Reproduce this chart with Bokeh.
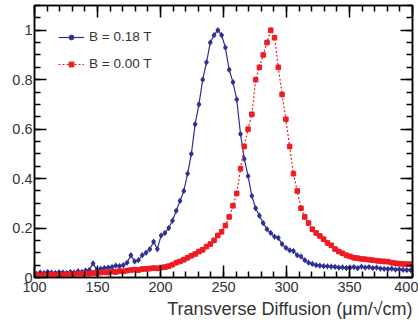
import numpy as np
from bokeh.plotting import figure
from bokeh.models import (Range1d, LinearAxis, Legend, LegendItem, Title,
                          FixedTicker, ColumnDataSource, Whisker, CustomJSTickFormatter)
from bokeh.embed import file_html
from bokeh.resources import INLINE

x_centers = list(np.arange(101.5, 400, 3.0))

b018 = [0.015, 0.02, 0.018, 0.022, 0.02, 0.018, 0.021, 0.02, 0.018, 0.022,
        0.02, 0.025, 0.022, 0.028, 0.03, 0.057, 0.03, 0.035, 0.038, 0.04,
        0.042, 0.048, 0.046, 0.05, 0.06, 0.09, 0.065, 0.07, 0.09, 0.1,
        0.114, 0.145, 0.115, 0.17, 0.18, 0.2, 0.23, 0.27, 0.31, 0.35,
        0.42, 0.5, 0.62, 0.7, 0.8, 0.87, 0.95, 0.98, 1.0, 0.98,
        0.93, 0.84, 0.79, 0.72, 0.58, 0.48, 0.41, 0.33, 0.28, 0.25,
        0.22, 0.195, 0.18, 0.165, 0.16, 0.135, 0.12, 0.11, 0.107, 0.09,
        0.085, 0.07, 0.06, 0.055, 0.05, 0.048, 0.046, 0.045, 0.044, 0.043,
        0.04, 0.041, 0.038, 0.04, 0.042, 0.038, 0.044, 0.04, 0.042, 0.038,
        0.04, 0.036, 0.035, 0.034, 0.036, 0.032, 0.033, 0.031, 0.03, 0.03]

b000 = [0.01, 0.008, 0.01, 0.009, 0.011, 0.01, 0.012, 0.01, 0.012, 0.014,
        0.013, 0.015, 0.014, 0.016, 0.015, 0.018, 0.017, 0.02, 0.022, 0.02,
        0.024, 0.022, 0.026, 0.025, 0.028, 0.03, 0.032, 0.03, 0.034, 0.035,
        0.036, 0.038, 0.037, 0.04, 0.042, 0.046, 0.052, 0.06, 0.065, 0.072,
        0.08, 0.088, 0.095, 0.105, 0.112, 0.125, 0.135, 0.15, 0.17, 0.185,
        0.21, 0.245, 0.29, 0.34, 0.44, 0.53, 0.6, 0.66, 0.8, 0.85,
        0.9, 0.95, 1.0, 0.97, 0.85, 0.74, 0.64, 0.53, 0.42, 0.35,
        0.28, 0.245, 0.22, 0.195, 0.18, 0.168, 0.155, 0.14, 0.13, 0.115,
        0.105, 0.098, 0.09, 0.085, 0.08, 0.078, 0.075, 0.074, 0.072, 0.07,
        0.068, 0.066, 0.065, 0.064, 0.06, 0.058, 0.056, 0.055, 0.054, 0.054]

y_ticks = [0, 0.2, 0.4, 0.6, 0.8, 1]
y_tick_labels = {0: "0", 0.2: "0.2", 0.4: "0.4", 0.6: "0.6", 0.8: "0.8", 1: "1"}
x_ticks = [100, 150, 200, 250, 300, 350, 400]
x_minor = list(range(100, 401, 10))
y_minor = [i * 0.05 for i in range(23)]

BLUE = "#2e3192"
RED = "#ed1c24"
FONT = "Liberation Sans"
TXT = "#333333"

p = figure(width=418, height=325, output_backend="svg", toolbar_location=None,
           x_range=Range1d(100, 400), y_range=Range1d(0, 1.1),
           min_border_left=34, min_border_right=6, min_border_top=5,
           min_border_bottom=48)
p.xgrid.visible = False
p.ygrid.visible = False
p.outline_line_color = "black"
p.outline_line_width = 1.5
p.background_fill_color = "white"
p.border_fill_color = "white"


def style_axis(ax):
    ax.major_tick_in = 12
    ax.major_tick_out = 0
    ax.minor_tick_in = 6
    ax.minor_tick_out = 0
    ax.axis_line_width = 1.5
    ax.major_tick_line_width = 1.5
    ax.minor_tick_line_width = 1.5
    ax.major_label_text_font = FONT
    ax.major_label_text_font_size = "14.5px"
    ax.major_label_text_color = TXT


for ax in p.xaxis + p.yaxis:
    style_axis(ax)

p.xaxis.ticker = FixedTicker(ticks=x_ticks, minor_ticks=x_minor)
p.yaxis.ticker = FixedTicker(ticks=y_ticks, minor_ticks=y_minor)
p.yaxis.major_label_overrides = y_tick_labels
p.xaxis.major_label_standoff = 4
p.yaxis.major_label_standoff = 2

# mirrored axes (ticks only)
blank = CustomJSTickFormatter(code="return ''")
top = LinearAxis(ticker=FixedTicker(ticks=x_ticks, minor_ticks=x_minor), formatter=blank)
right = LinearAxis(ticker=FixedTicker(ticks=y_ticks, minor_ticks=y_minor), formatter=blank)
for ax in (top, right):
    style_axis(ax)
    ax.major_label_standoff = 0
p.add_layout(top, "above")
p.add_layout(right, "right")

src_b = ColumnDataSource(dict(x=x_centers, y=b018,
                              lo=[v - 0.012 for v in b018], hi=[v + 0.012 for v in b018]))
src_r = ColumnDataSource(dict(x=x_centers, y=b000,
                              lo=[v - 0.012 for v in b000], hi=[v + 0.012 for v in b000]))

lb = p.line("x", "y", source=src_b, line_color=BLUE, line_width=1.2)
sb = p.scatter("x", "y", source=src_b, marker="circle", size=3.5,
               line_color=BLUE, fill_color=BLUE)
p.add_layout(Whisker(source=src_b, base="x", lower="lo", upper="hi",
                     line_color=BLUE, line_width=1, upper_head=None, lower_head=None))

lr = p.line("x", "y", source=src_r, line_color=RED, line_width=1.2, line_dash="2 2")
sr = p.scatter("x", "y", source=src_r, marker="square", size=4.5,
               fill_color=RED, line_color=RED)
p.add_layout(Whisker(source=src_r, base="x", lower="lo", upper="hi",
                     line_color=RED, line_width=1, upper_head=None, lower_head=None))

legend = Legend(items=[LegendItem(label="B = 0.18 T", renderers=[lb, sb]),
                       LegendItem(label="B = 0.00 T", renderers=[lr, sr])],
                location="top_left", margin=24, padding=0, spacing=12,
                glyph_width=26, glyph_height=12, label_standoff=5,
                label_height=15,
                border_line_color=None, background_fill_alpha=0,
                label_text_font=FONT, label_text_font_size="13.5px",
                label_text_color=TXT)
p.add_layout(legend)

p.add_layout(Title(text="Transverse Diffusion (μm/√cm)", align="right",
                   text_font=FONT, text_font_size="18px", text_color=TXT,
                   text_font_style="normal", standoff=4), "below")

open("out.html", "w").write(file_html(p, INLINE))
